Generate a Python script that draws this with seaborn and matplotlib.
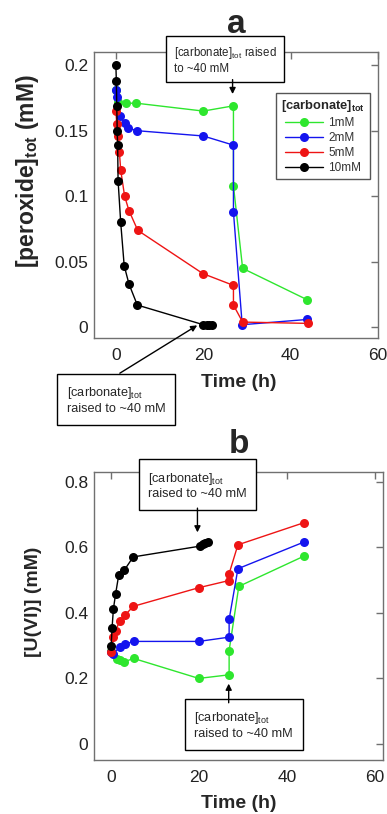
import pandas as pd
import matplotlib
matplotlib.use("Agg")
import matplotlib.pyplot as plt
import seaborn as sns

# --- DATA ---
CONCS = ["1mM", "2mM", "5mM", "10mM"]
COLORS = ["#2ee62e", "#1414ee", "#ee1414", "#000000"]

# panel a: [peroxide]tot (mM)
t_a_1mM = [0, 0.5, 2.4, 4.7, 20, 26.9, 26.9, 29, 43.8]
perox_1mM = [0.181, 0.172, 0.171, 0.171, 0.165, 0.169, 0.108, 0.045, 0.021]
t_a_2mM = [0, 0.2, 0.9, 2, 2.8, 4.9, 20, 26.9, 26.9, 28.9, 43.8]
perox_2mM = [0.181, 0.176, 0.161, 0.156, 0.152, 0.150, 0.146, 0.139, 0.088, 0.002, 0.006]
t_a_5mM = [0, 0.2, 0.4, 0.8, 1.1, 2, 3, 5, 19.9, 26.9, 26.9, 29, 44]
perox_5mM = [0.165, 0.155, 0.146, 0.134, 0.120, 0.100, 0.089, 0.074, 0.041, 0.032, 0.017, 0.004, 0.003]
t_a_10mM = [0, 0.1, 0.2, 0.3, 0.4, 0.5, 1.1, 1.9, 3, 4.9, 20, 20.8, 21.4, 22]
perox_10mM = [0.200, 0.188, 0.169, 0.150, 0.139, 0.112, 0.080, 0.047, 0.033, 0.017, 0.002, 0.002, 0.002, 0.002]

# panel b: [U(VI)] (mM)
t_b_1mM = [0, 1.3, 2, 3, 5.1, 19.9, 26.8, 26.8, 29, 43.9]
uvi_1mM = [0.285, 0.260, 0.256, 0.251, 0.261, 0.200, 0.211, 0.285, 0.481, 0.574]
t_b_2mM = [0, 0.3, 2, 3.2, 5.1, 19.9, 26.8, 26.8, 28.8, 43.9]
uvi_2mM = [0.280, 0.275, 0.295, 0.305, 0.313, 0.313, 0.326, 0.380, 0.535, 0.617]
t_b_5mM = [0, 0.5, 1, 1.9, 3.2, 5, 19.9, 26.8, 26.8, 28.8, 43.9]
uvi_5mM = [0.280, 0.326, 0.346, 0.374, 0.394, 0.420, 0.477, 0.499, 0.520, 0.608, 0.676]
t_b_10mM = [0, 0.2, 0.5, 1, 1.7, 3, 5, 20.2, 20.8, 21.4, 22]
uvi_10mM = [0.300, 0.355, 0.412, 0.458, 0.515, 0.531, 0.571, 0.604, 0.610, 0.614, 0.617]


def to_long(times, values):
    rows = []
    for conc, t, v in zip(CONCS, times, values):
        for ti, vi in zip(t, v):
            rows.append({"conc": conc, "t": ti, "v": vi})
    return pd.DataFrame(rows)


df_a = to_long([t_a_1mM, t_a_2mM, t_a_5mM, t_a_10mM],
               [perox_1mM, perox_2mM, perox_5mM, perox_10mM])
df_b = to_long([t_b_1mM, t_b_2mM, t_b_5mM, t_b_10mM],
               [uvi_1mM, uvi_2mM, uvi_5mM, uvi_10mM])

# --- STYLE ---
sns.set_style("white")
plt.rcParams["font.family"] = ["Liberation Sans", "DejaVu Sans"]
plt.rcParams["mathtext.fontset"] = "custom"
plt.rcParams["mathtext.rm"] = "Liberation Sans"
plt.rcParams["mathtext.bf"] = "Liberation Sans:bold"

PALETTE = dict(zip(CONCS, COLORS))
SPINE = "#707070"


def style_axes(ax):
    for s in ax.spines.values():
        s.set_color(SPINE)
        s.set_linewidth(1.0)
    ax.tick_params(direction="in", length=5, width=1, color=SPINE,
                   top=True, right=True, labelsize=12.5, labelcolor="#222222")
    ax.tick_params(axis="x", pad=7)
    ax.tick_params(axis="y", pad=4)


def draw_series(df, ax, legend):
    sns.lineplot(data=df, x="t", y="v", hue="conc", hue_order=CONCS,
                 palette=PALETTE, units="conc", estimator=None, sort=False,
                 marker="o", markersize=6.5, markeredgewidth=0, linewidth=1.0,
                 legend=legend, ax=ax)


def note(ax, x, y, text, size=9.2, pad=0.75):
    ax.text(x, y, text, ha="center", va="center", fontsize=size, multialignment="left",
            bbox=dict(boxstyle=f"square,pad={pad}", fc="white", ec="black", lw=1.0),
            clip_on=False, zorder=10)


def arrow(ax, start, tip):
    ax.annotate("", xy=tip, xytext=start, annotation_clip=False, zorder=11,
                arrowprops=dict(arrowstyle="-|>", color="black", lw=1.0,
                                mutation_scale=9, shrinkA=0, shrinkB=0))


fig = plt.figure(figsize=(3.87, 8.14), dpi=100)
ax_a = fig.add_axes([0.243, 0.585, 0.734, 0.351])
ax_b = fig.add_axes([0.243, 0.066, 0.747, 0.354])

NOTE = "[carbonate]$_{\\mathrm{tot}}$"

# --- panel a ---
draw_series(df_a, ax_a, legend=True)
ax_a.set_xlim(-5, 60)
ax_a.set_ylim(-0.008, 0.21)
ax_a.set_xticks([0, 20, 40, 60])
ax_a.set_yticks([0, 0.05, 0.1, 0.15, 0.2])
ax_a.set_yticklabels(["0", "0.05", "0.1", "0.15", "0.2"])
ax_a.set_xlabel("Time (h)", fontsize=14, fontweight="bold")
ax_a.set_ylabel(r"[peroxide]$_{\mathbf{tot}}$ (mM)", fontsize=16.5, fontweight="bold")
ax_a.xaxis.set_label_coords(0.51, -0.126)
ax_a.yaxis.set_label_coords(-0.187, 0.584)
ax_a.set_title("a", fontsize=24, fontweight="bold", pad=14)
style_axes(ax_a)
leg = ax_a.legend(title=r"[carbonate]$_{\mathbf{tot}}$", loc="upper right",
                  bbox_to_anchor=(0.973, 0.858), borderaxespad=0,
                  fontsize=8.5, title_fontsize=9.3,
                  fancybox=False, edgecolor="#555555", framealpha=1,
                  handlelength=3.2, borderpad=0.45, labelspacing=0.25, handletextpad=0.4)
leg.get_title().set_fontweight("bold")
leg.get_frame().set_linewidth(1.0)
for txt in leg.get_texts():
    txt.set_color("#333333")

note(ax_a, 25, 0.204, NOTE + " raised\nto ~40 mM", size=8.3, pad=0.65)
arrow(ax_a, (26.7, 0.189), (26.7, 0.178))
note(ax_a, 0.0, -0.0555, NOTE + "\nraised to ~40 mM")
arrow(ax_a, (0.9, -0.035), (18.6, 0.0015))

# --- panel b ---
draw_series(df_b, ax_b, legend=False)
ax_b.set_xlim(-3.9, 61.8)
ax_b.set_ylim(-0.05, 0.83)
ax_b.set_xticks([0, 20, 40, 60])
ax_b.set_yticks([0, 0.2, 0.4, 0.6, 0.8])
ax_b.set_yticklabels(["0", "0.2", "0.4", "0.6", "0.8"])
ax_b.set_xlabel("Time (h)", fontsize=14, fontweight="bold")
ax_b.set_ylabel("[U(VI)] (mM)", fontsize=14, fontweight="bold")
ax_b.xaxis.set_label_coords(0.50, -0.12)
ax_b.yaxis.set_label_coords(-0.18, 0.549)
ax_b.set_title("b", fontsize=24, fontweight="bold", pad=14)
style_axes(ax_b)

note(ax_b, 19.6, 0.789, NOTE + "\nraised to ~40 mM")
arrow(ax_b, (19.6, 0.72), (19.6, 0.646))
note(ax_b, 30.1, 0.0567, NOTE + "\nraised to ~40 mM")
arrow(ax_b, (26.7, 0.1256), (26.7, 0.184))

fig.savefig("out.png", dpi=100)
